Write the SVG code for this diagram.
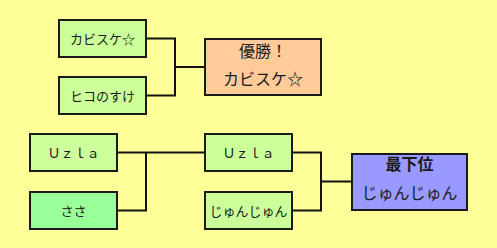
<svg xmlns="http://www.w3.org/2000/svg" width="497" height="248" viewBox="0 0 497 248">
<style>
.box{stroke:#1a1a1a;stroke-width:2}
.t{font-family:"Noto Sans CJK JP","Noto Sans",sans-serif;fill:#1a1a1a;text-anchor:middle;dominant-baseline:central}
.s{font-size:13px}
.l{font-size:16px}
.c{fill:none;stroke:#111;stroke-width:2}
</style>
<rect width="497" height="248" fill="#FFFF99"/>
<g id="connectors">
<polyline class="c" points="147,38.5 175,38.5 175,95.5 147,95.5"/>
<line class="c" x1="175" y1="67" x2="204" y2="67"/>
<line class="c" x1="117" y1="152.5" x2="204" y2="152.5"/>
<polyline class="c" points="146,152.5 146,210.5 117,210.5"/>
<polyline class="c" points="292,152.5 321,152.5 321,210.5 292,210.5"/>
<line class="c" x1="321" y1="181.5" x2="351" y2="181.5"/>
</g>
<g id="n1"><rect class="box" x="59" y="20" width="87" height="37" fill="#CCFF99"/><text class="t s" x="102.5" y="38.5">カビスケ☆</text></g>
<g id="n2"><rect class="box" x="59" y="77" width="87" height="37" fill="#CCFF99"/><text class="t s" x="102.5" y="95.5">ヒコのすけ</text></g>
<g id="n3"><rect class="box" x="205" y="39" width="116" height="56" fill="#FFCC99"/><text class="t l" x="263" y="50">優勝！</text><text class="t l" x="263" y="78">カビスケ☆</text></g>
<g id="n4"><rect class="box" x="30" y="134" width="87" height="37" fill="#CCFF99"/><text class="t s" x="73.5" y="152.5">Ｕｚｌａ</text></g>
<g id="n5"><rect class="box" x="30" y="192" width="87" height="37" fill="#99FF99"/><text class="t s" x="73.5" y="210.5">ささ</text></g>
<g id="n6"><rect class="box" x="205" y="134" width="87" height="37" fill="#CCFF99"/><text class="t s" x="248.5" y="152.5">Ｕｚｌａ</text></g>
<g id="n7"><rect class="box" x="205" y="192" width="87" height="37" fill="#CCFF99"/><text class="t s" x="248.5" y="210.5">じゅんじゅん</text></g>
<g id="n8"><rect class="box" x="352" y="154" width="115" height="56" fill="#9999FF"/><text class="t l" x="409.5" y="163" font-weight="bold" fill="#333">最下位</text><text class="t l" x="409.5" y="192">じゅんじゅん</text></g>
</svg>
